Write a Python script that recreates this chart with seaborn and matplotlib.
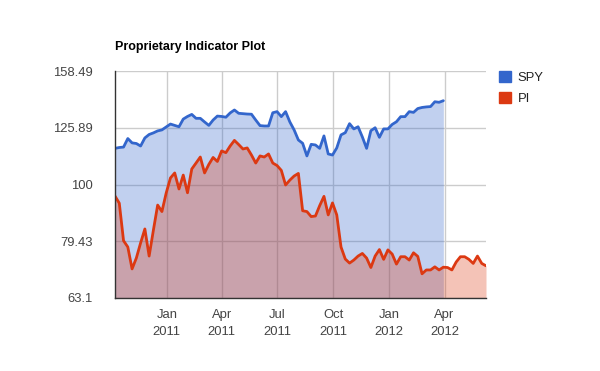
import matplotlib
matplotlib.use("Agg")
import matplotlib.pyplot as plt
from matplotlib.patches import Patch
import seaborn as sns
import pandas as pd

# weekly closes, Oct 2010 - Jun 2012 (SPY stops at end of March 2012)
dates = pd.date_range("2010-10-08", periods=88, freq="7D")

spy = [115.8, 116.2, 116.4, 120.5, 118.4, 118.1, 116.9, 120.8, 122.5, 123.3,
       124.3, 124.8, 126.3, 127.8, 127.1, 126.4, 130.4, 131.8, 132.9, 130.8,
       130.8, 128.9, 127.1, 129.9, 132.0, 131.8, 131.4, 133.7, 135.3, 133.5,
       133.3, 133.1, 133.0, 129.9, 127.0, 126.8, 126.8, 133.8, 134.4, 131.7,
       134.4, 128.9, 124.8, 119.8, 118.2, 112.3, 117.7, 117.4, 115.8, 121.8,
       113.2, 112.7, 116.0, 122.3, 123.4, 128.0, 125.3, 126.4, 121.3, 115.8,
       124.4, 125.9, 121.1, 125.3, 125.3, 127.6, 129.0, 131.7, 131.7, 134.4,
       134.0, 136.1, 136.7, 137.0, 137.2, 139.9, 139.6, 140.5]

pi = [95.4, 92.7, 79.6, 77.6, 71.0, 74.2, 78.9, 83.5, 74.8, 83.1,
      92.0, 89.6, 96.6, 102.7, 104.8, 98.2, 103.9, 96.7, 106.5, 109.1,
      111.8, 104.8, 108.5, 111.6, 109.8, 114.6, 113.8, 116.9, 119.6, 117.6,
      115.5, 116.0, 112.7, 109.1, 112.3, 111.8, 113.2, 109.1, 108.0, 105.9,
      99.8, 101.8, 103.5, 104.6, 89.9, 89.6, 87.8, 88.0, 91.8, 95.3,
      88.4, 92.8, 88.4, 77.6, 73.9, 72.7, 73.6, 74.8, 75.6, 74.2,
      71.4, 74.8, 76.8, 73.8, 76.7, 75.4, 72.4, 74.6, 74.6, 73.6,
      75.8, 74.7, 69.6, 70.7, 70.7, 71.6, 70.7, 71.5, 71.4, 70.7,
      73.0, 74.6, 74.6, 73.8, 72.6, 74.8, 72.6, 71.9]

y_ticks = [63.1, 79.43, 100, 125.89, 158.49]
y_tick_labels = ["63.1", "79.43", "100", "125.89", "158.49"]
x_ticks = pd.to_datetime(["2011-01-01", "2011-04-01", "2011-07-01",
                          "2011-10-01", "2012-01-01", "2012-04-01"])
x_tick_labels = ["Jan\n2011", "Apr\n2011", "Jul\n2011",
                 "Oct\n2011", "Jan\n2012", "Apr\n2012"]

sns.set_style("white")
plt.rcParams["font.family"] = ["Liberation Sans", "DejaVu Sans"]

blue = "#3366cc"
red = "#dc3912"

fig = plt.figure(figsize=(6, 3.71), dpi=100)
ax = fig.add_axes([0.1917, 0.1968, 0.6183, 0.6118])

spy_df = pd.DataFrame({"date": dates[:len(spy)], "value": spy})
pi_df = pd.DataFrame({"date": dates, "value": pi})

base = y_ticks[0]
ax.fill_between(spy_df["date"], spy_df["value"], base, color=blue, alpha=0.3, lw=0)
ax.fill_between(pi_df["date"], pi_df["value"], base, color=red, alpha=0.3, lw=0)
sns.lineplot(data=spy_df, x="date", y="value", color=blue, lw=2, ax=ax)
sns.lineplot(data=pi_df, x="date", y="value", color=red, lw=2, ax=ax)

ax.set_yscale("log")
ax.set_ylim(y_ticks[0], y_ticks[-1])
ax.set_xlim(dates[0], dates[-1])
ax.set_yticks(y_ticks)
ax.set_yticklabels(y_tick_labels)
ax.minorticks_off()
ax.set_xticks(x_ticks)
ax.set_xticklabels(x_tick_labels, linespacing=1.5)
ax.tick_params(length=0, labelsize=9.4, colors="#444444")
ax.tick_params(axis="y", pad=16)
ax.tick_params(axis="x", pad=8)
ax.set_xlabel("")
ax.set_ylabel("")

ax.grid(True, color="#cccccc", lw=1)
ax.set_axisbelow(True)
for side in ["top", "right"]:
    ax.spines[side].set_visible(False)
for side in ["left", "bottom"]:
    ax.spines[side].set_color("#333333")
    ax.spines[side].set_linewidth(1)

ax.set_title("Proprietary Indicator Plot", loc="left", fontsize=9,
             fontweight="bold", pad=15, color="#000000")

handles = [Patch(color=blue), Patch(color=red)]
ax.legend(handles, ["SPY", "PI"], loc="upper left", bbox_to_anchor=(1.02, 1.025),
          frameon=False, fontsize=9.4, handlelength=0.95, handleheight=0.95,
          handletextpad=0.5, labelspacing=0.6, borderaxespad=0,
          labelcolor="#222222")

fig.savefig("out.png", dpi=100)
